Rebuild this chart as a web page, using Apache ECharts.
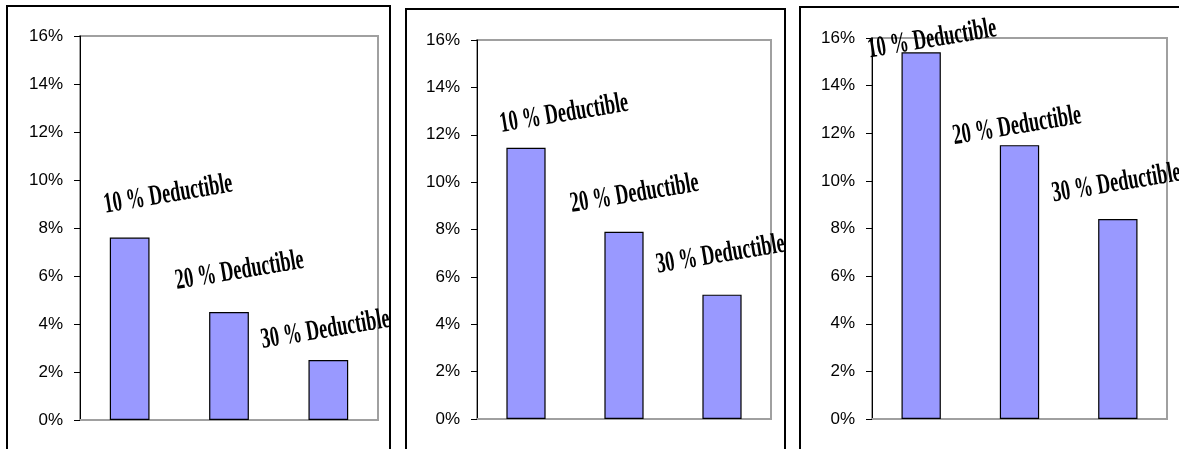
<!DOCTYPE html>
<html>
<head>
<meta charset="utf-8">
<script src="https://cdn.jsdelivr.net/npm/echarts@6/dist/echarts.min.js"></script>
<style>
html,body{margin:0;padding:0;background:#fff;}
#chart{width:1179px;height:449px;}
</style>
</head>
<body>
<div id="chart"></div>
<script>
// ---- data ----
const categories = ['10 % Deductible', '20 % Deductible', '30 % Deductible'];
const panel1Values = [0.076, 0.045, 0.025];
const panel2Values = [0.1145, 0.079, 0.0525];
const panel3Values = [0.154, 0.115, 0.084];
const yMin = 0, yMax = 0.16, yStep = 0.02;

// ---- layout / style ----
const panels = [
  { values: panel1Values, grid: { left: 80, top: 36, width: 298, height: 384 }, frame: [7, 6, 383],
    offsets: [[38.5, -43], [10.5, -41], [-3, -30]] },
  { values: panel2Values, grid: { left: 477, top: 40, width: 294, height: 379 }, frame: [406, 9, 379],
    offsets: [[38, -34], [10.5, -38], [-1.5, -40]] },
  { values: panel3Values, grid: { left: 872, top: 38, width: 295, height: 381 }, frame: [800, 7, 400],
    offsets: [[11, -13], [-2.5, -19], [-1.5, -35.5]] }
];
const ROT = 9.5 * Math.PI / 180;
const SX = 0.63;

const chart = echarts.init(document.getElementById('chart'), null, { renderer: 'canvas' });

const grids = [], xAxes = [], yAxes = [], series = [], graphics = [];
panels.forEach((p, i) => {
  grids.push(Object.assign({ show: true, borderColor: '#a0a0a0', borderWidth: 2, backgroundColor: 'transparent' }, p.grid));
  xAxes.push({
    type: 'category', gridIndex: i, data: categories,
    axisLine: { show: true, lineStyle: { color: '#a0a0a0', width: 2 } },
    axisTick: { show: false }, axisLabel: { show: false }, splitLine: { show: false }
  });
  yAxes.push({
    type: 'value', gridIndex: i, min: yMin, max: yMax, interval: yStep,
    axisLine: { show: true, lineStyle: { color: '#000', width: 1 } },
    axisTick: { show: true, inside: false, length: 6, lineStyle: { color: '#000', width: 1 } },
    axisLabel: { margin: 17, color: '#000', fontFamily: 'Liberation Sans, Arial, sans-serif', fontSize: 17,
      formatter: v => Math.round(v * 100) + '%' },
    splitLine: { show: false }
  });
  series.push({
    type: 'bar', xAxisIndex: i, yAxisIndex: i, data: p.values, barWidth: '40%',
    itemStyle: { color: '#9999ff', borderColor: '#000', borderWidth: 1.2 },
    silent: true, animation: false
  });
  series.push({
    type: 'custom', xAxisIndex: i, yAxisIndex: i, clip: false, animation: false, silent: true, z: 10,
    data: p.values.map((v, j) => [j, v]),
    renderItem: (params, api) => {
      const pt = api.coord([api.value(0), api.value(1)]);
      const off = p.offsets[params.dataIndex];
      return {
        type: 'text', x: pt[0] + off[0], y: pt[1] + off[1], rotation: ROT, scaleX: SX,
        style: {
          text: categories[params.dataIndex], fill: '#000',
          fontFamily: 'Liberation Serif, Times New Roman, serif', fontWeight: 'bold', fontSize: 29,
          align: 'center', verticalAlign: 'middle'
        }
      };
    }
  });
  graphics.push({
    type: 'rect', z: 100, silent: true,
    shape: { x: p.frame[0], y: p.frame[1], width: p.frame[2], height: 500 },
    style: { fill: 'none', stroke: '#000', lineWidth: 2 }
  });
});

chart.setOption({
  animation: false,
  grid: grids, xAxis: xAxes, yAxis: yAxes, series: series, graphic: graphics
});
</script>
</body>
</html>
